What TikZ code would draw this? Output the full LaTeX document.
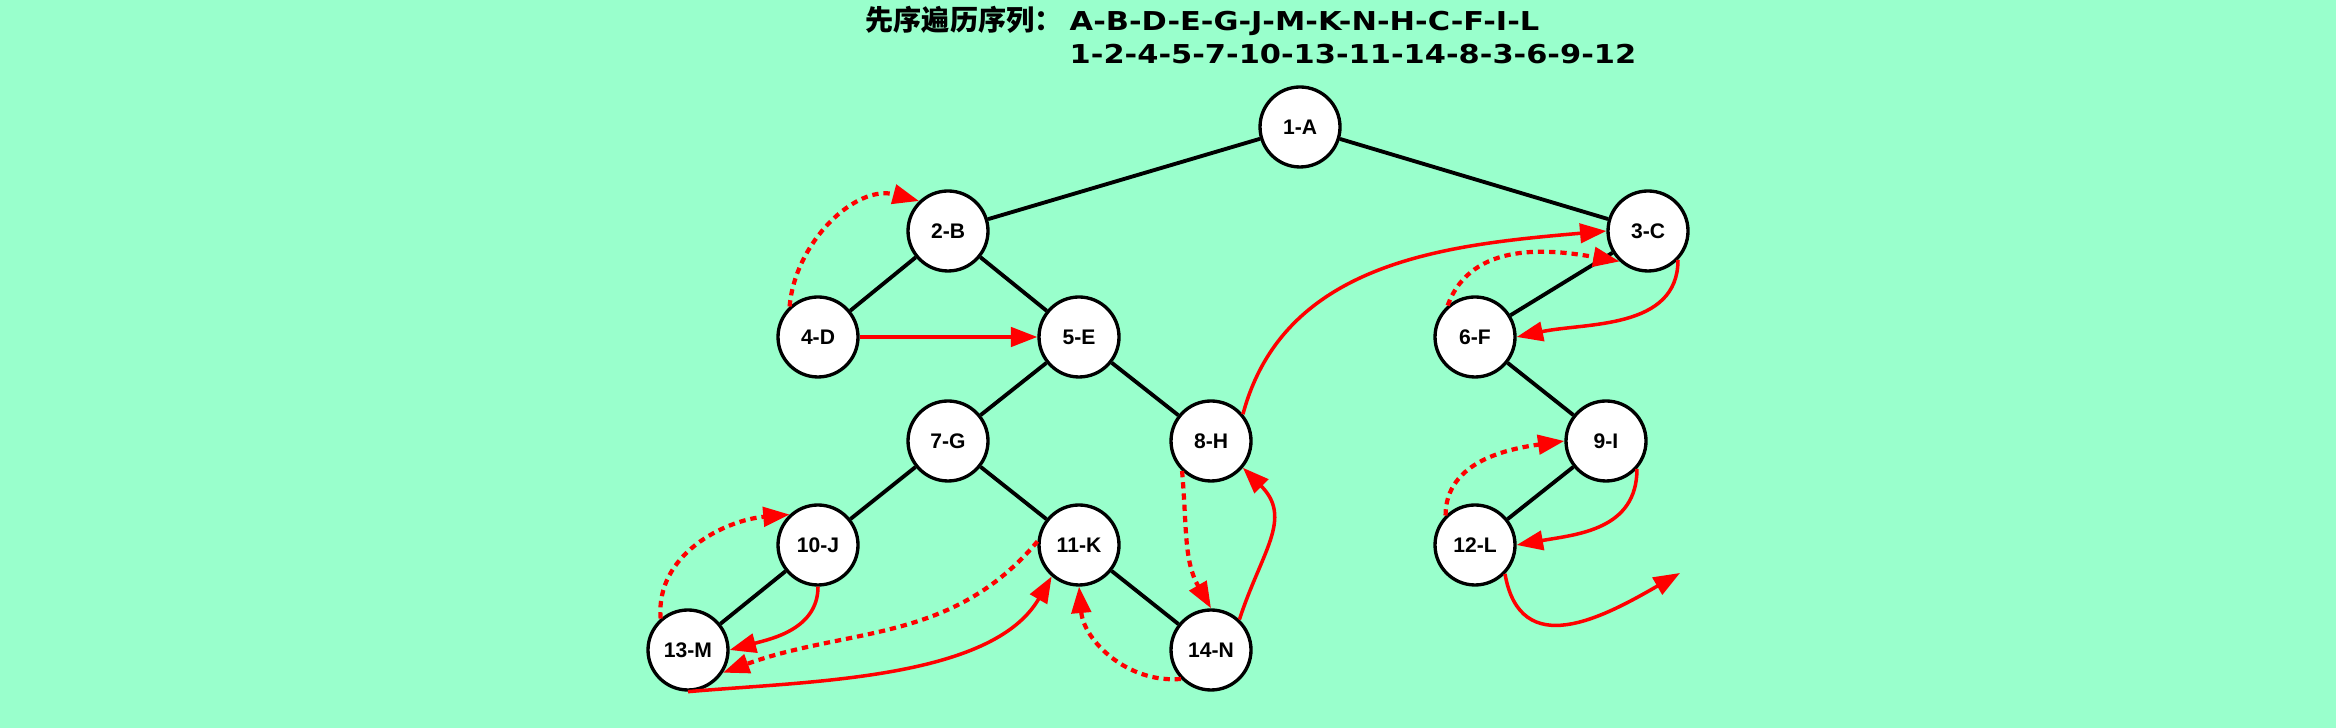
\documentclass[tikz,border=0pt]{standalone}
\usepackage{fontspec}
\setmainfont{Liberation Sans}
\newfontfamily\cjk{Noto Sans CJK SC}
\newfontfamily\seqfont{DejaVu Sans}[FakeStretch=1.17]
\usepackage{xcolor}
\usepackage{tikz}
\usetikzlibrary{arrows.meta}
\definecolor{mint}{RGB}{153,255,204}
\tikzset{
	vertex/.style={
			circle, draw, line width=0.95pt, fill=white,
			minimum size=0.8cm, inner sep=0pt,
			font=\fontsize{6}{7}\selectfont\bfseries
		},
	link/.style={line width=1.1pt},
	thread/.style={red, line width=1pt, -{Triangle[length=7.5pt,width=5.5pt]}},
	dotthread/.style={thread, line width=1.2pt, dash pattern=on 1.8pt off 1.4pt},
	caption/.style={anchor=base west, inner sep=0pt}
}

\begin{document}
\begin{tikzpicture}
	\fill[mint] (0,0) rectangle (23.36,7.28);
	\useasboundingbox (0,0) rectangle (23.36,7.28);
	\node[caption,font=\cjk\bfseries\fontsize{8}{9}\selectfont] (title) at (8.65,6.97) {先序遍历序列：};
	\node[caption,font=\seqfont\bfseries\fontsize{7.4}{9}\selectfont] (letters) at (10.69,6.97) {A-B-D-E-G-J-M-K-N-H-C-F-I-L};
	\node[caption,font=\seqfont\bfseries\fontsize{7.4}{9}\selectfont] (numbers) at (10.69,6.64) {1-2-4-5-7-10-13-11-14-8-3-6-9-12};
	\node[vertex] (A) at (13.00,6.01) {1-A};
	\node[vertex] (B) at (9.48,4.97) {2-B};
	\node[vertex] (C) at (16.48,4.97) {3-C};
	\node[vertex] (D) at (8.18,3.91) {4-D};
	\node[vertex] (E) at (10.79,3.91) {5-E};
	\node[vertex] (F) at (14.75,3.91) {6-F};
	\node[vertex] (G) at (9.48,2.87) {7-G};
	\node[vertex] (H) at (12.11,2.87) {8-H};
	\node[vertex] (I) at (16.06,2.87) {9-I};
	\node[vertex] (J) at (8.18,1.83) {10-J};
	\node[vertex] (K) at (10.79,1.83) {11-K};
	\node[vertex] (L) at (14.75,1.83) {12-L};
	\node[vertex] (M) at (6.88,0.78) {13-M};
	\node[vertex] (N) at (12.11,0.78) {14-N};
	\coordinate (out) at (16.80,1.55);
	\draw[link] (A) -- (B) (A) -- (C) (B) -- (D) (B) -- (E) (E) -- (G) (E) -- (H)
		(G) -- (J) (G) -- (K) (J) -- (M) (K) -- (N) (C) -- (F) (F) -- (I) (I) -- (L);
	\draw[dotthread] (D.133) to[out=85,in=165] (B.134);
	\draw[thread] (D.east) -- (E.west);
	\draw[thread] (H.40) to[out=75,in=185] (C.west);
	\draw[dotthread] (F.131) to[out=70,in=170] (C.227);
	\draw[thread] (C.316) to[out=-90,in=12] (F.east);
	\draw[dotthread] (H.226) to[out=-85,in=120] (N.north);
	\draw[thread] (N.47) to[out=72,in=-45,looseness=1.2] (H.320);
	\draw[dotthread] (N.224) to[out=185,in=-85] (K.south);
	\draw[dotthread] (K.175) to[out=230,in=20] (M.327);
	\draw[thread] (M.south) to[out=5,in=240,looseness=0.8] (K.229);
	\draw[dotthread] (M.131) to[out=95,in=185] (J.133);
	\draw[thread] (J.south) to[out=-90,in=15] (M.east);
	\draw[thread] (I.318) to[out=-90,in=10,looseness=1.1] (L.east);
	\draw[dotthread] (L.135) to[out=90,in=188] (I.west);
	\draw[thread] (L.316) to[out=-80,in=210,looseness=1.3] (out);
\end{tikzpicture}
\end{document}
